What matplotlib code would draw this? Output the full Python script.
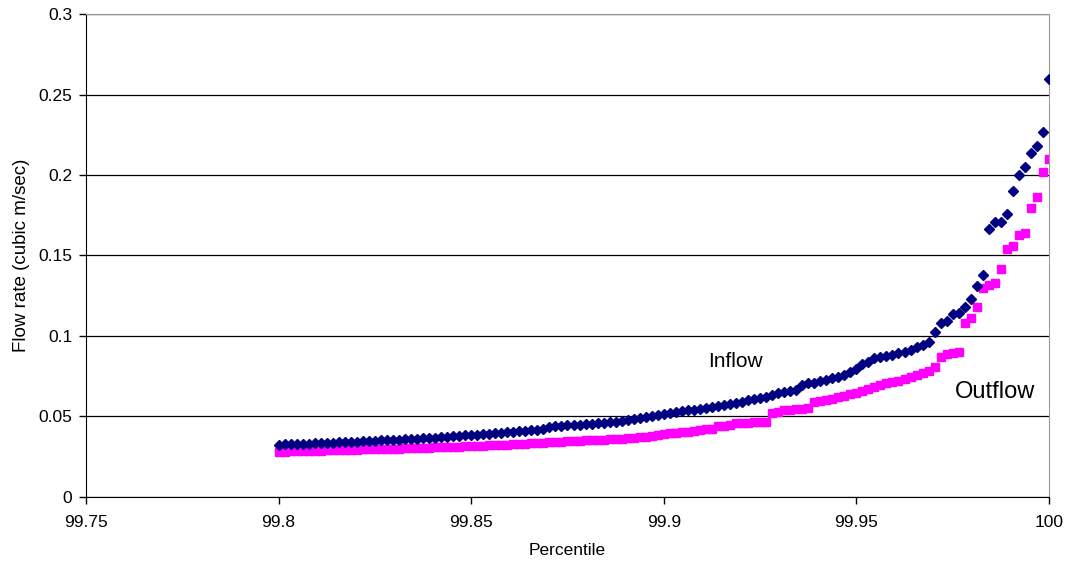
import numpy as np
import matplotlib.pyplot as plt

# percentiles 99.8 .. 100, 129 points
percentile = np.linspace(99.8, 100.0, 129)

inflow = [
    0.0323, 0.0326, 0.0327, 0.0329, 0.0330, 0.0332, 0.0334, 0.0335, 0.0336, 0.0338,
    0.0340, 0.0341, 0.0343, 0.0344, 0.0346, 0.0348, 0.0349, 0.0351, 0.0353, 0.0354,
    0.0356, 0.0358, 0.0360, 0.0362, 0.0364, 0.0366, 0.0368, 0.0371, 0.0373, 0.0376,
    0.0379, 0.0382, 0.0385, 0.0388, 0.0391, 0.0394, 0.0397, 0.0400, 0.0403, 0.0406,
    0.0409, 0.0412, 0.0415, 0.0418, 0.0421, 0.0436, 0.0439, 0.0441, 0.0444, 0.0446,
    0.0449, 0.0452, 0.0455, 0.0458, 0.0461, 0.0464, 0.0468, 0.0472, 0.0477, 0.0482,
    0.0490, 0.0497, 0.0505, 0.0510, 0.0516, 0.0521, 0.0527, 0.0533, 0.0538, 0.0543,
    0.0549, 0.0555, 0.0561, 0.0566, 0.0572, 0.0578, 0.0584, 0.0592, 0.0600, 0.0608,
    0.0616, 0.0623, 0.0636, 0.0643, 0.0650, 0.0657, 0.0664, 0.0696, 0.0705, 0.0711,
    0.0720, 0.0728, 0.0737, 0.0747, 0.0760, 0.0778, 0.0795, 0.0824, 0.0837, 0.0861,
    0.0871, 0.0878, 0.0882, 0.0892, 0.0899, 0.0913, 0.0930, 0.0944, 0.0960, 0.1023,
    0.1083, 0.1095, 0.1137, 0.1140, 0.1178, 0.1228, 0.1310, 0.1380, 0.1667, 0.1708,
    0.1708, 0.1758, 0.1900, 0.2000, 0.2048, 0.2135, 0.2180, 0.2270, 0.2596,
]

outflow = [
    0.0281, 0.0282, 0.0283, 0.0284, 0.0285, 0.0286, 0.0287, 0.0288, 0.0289, 0.0290,
    0.0291, 0.0292, 0.0293, 0.0294, 0.0295, 0.0296, 0.0297, 0.0298, 0.0299, 0.0300,
    0.0301, 0.0302, 0.0303, 0.0304, 0.0306, 0.0307, 0.0308, 0.0309, 0.0310, 0.0312,
    0.0313, 0.0315, 0.0316, 0.0318, 0.0319, 0.0321, 0.0322, 0.0324, 0.0325, 0.0327,
    0.0329, 0.0331, 0.0333, 0.0335, 0.0337, 0.0339, 0.0341, 0.0343, 0.0345, 0.0347,
    0.0349, 0.0351, 0.0353, 0.0355, 0.0357, 0.0359, 0.0361, 0.0363, 0.0365, 0.0368,
    0.0372, 0.0374, 0.0376, 0.0388, 0.0392, 0.0396, 0.0399, 0.0402, 0.0405, 0.0410,
    0.0416, 0.0420, 0.0425, 0.0438, 0.0442, 0.0446, 0.0458, 0.0460, 0.0462, 0.0463,
    0.0465, 0.0467, 0.0520, 0.0530, 0.0540, 0.0543, 0.0546, 0.0549, 0.0551, 0.0592,
    0.0597, 0.0603, 0.0610, 0.0619, 0.0630, 0.0640, 0.0648, 0.0660, 0.0670, 0.0681,
    0.0696, 0.0706, 0.0712, 0.0722, 0.0731, 0.0745, 0.0758, 0.0770, 0.0784, 0.0810,
    0.0871, 0.0886, 0.0893, 0.0899, 0.1083, 0.1110, 0.1180, 0.1300, 0.1315, 0.1327,
    0.1414, 0.1538, 0.1559, 0.1627, 0.1642, 0.1797, 0.1865, 0.2020, 0.2101,
]

plt.rcParams['font.family'] = ['Liberation Sans', 'DejaVu Sans']

fig = plt.figure(figsize=(10.66, 5.65), dpi=100)
ax = fig.add_axes([0.0807, 0.1204, 0.9033, 0.8548])

ax.plot(percentile, inflow, "D", color="#000080", markersize=4.8, zorder=3)
ax.plot(percentile, outflow, "s", color="#FF00FF", markersize=6, zorder=2)

ax.set_xlim(99.75, 100)
ax.set_ylim(0, 0.3)
ax.set_xticks([99.75, 99.8, 99.85, 99.9, 99.95, 100])
ax.set_xticklabels(["99.75", "99.8", "99.85", "99.9", "99.95", "100"])
ax.set_yticks([0, 0.05, 0.1, 0.15, 0.2, 0.25, 0.3])
ax.set_yticklabels(["0", "0.05", "0.1", "0.15", "0.2", "0.25", "0.3"])

ax.yaxis.grid(True, color="#000000", linewidth=0.9)
ax.set_axisbelow(True)
ax.spines["top"].set_color("#999999")
ax.spines["right"].set_color("#999999")
ax.spines["left"].set_color("#000000")
ax.spines["bottom"].set_color("#000000")
ax.tick_params(direction="out", length=5, width=1, labelsize=12.5)
ax.tick_params(axis="x", pad=8)
ax.tick_params(axis="y", pad=5)

ax.set_xlabel("Percentile", fontsize=12.5, labelpad=9)
ax.set_ylabel("Flow rate (cubic m/sec)", fontsize=13.5, labelpad=6)

ax.text(99.9115, 0.0839, "Inflow", fontsize=15, va="center", ha="left")
ax.text(99.9756, 0.0655, "Outflow", fontsize=17, va="center", ha="left")

plt.savefig("out.png", dpi=100)
